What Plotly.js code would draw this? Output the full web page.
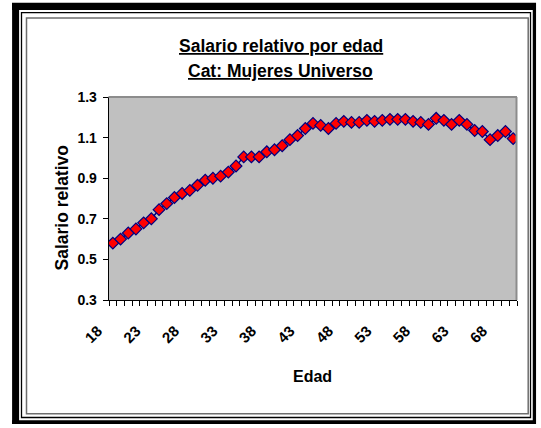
<!DOCTYPE html>
<html>
<head>
<meta charset="utf-8">
<script src="https://cdn.plot.ly/plotly-3.0.1.min.js"></script>
<style>html,body{margin:0;padding:0;background:#fff;}#chart{width:541px;height:428px;}</style>
</head>
<body>
<div id="chart"></div>
<script>
// ---- data ----
const ages = [18,19,20,21,22,23,24,25,26,27,28,29,30,31,32,33,34,35,36,37,38,39,40,41,42,43,44,45,46,47,48,49,50,51,52,53,54,55,56,57,58,59,60,61,62,63,64,65,66,67,68,69,70];
const salarioRelativo = [0.58,0.60,0.63,0.65,0.68,0.70,0.745,0.775,0.805,0.825,0.84,0.865,0.89,0.90,0.91,0.93,0.96,1.005,1.005,1.005,1.03,1.04,1.06,1.09,1.11,1.145,1.17,1.16,1.145,1.17,1.18,1.175,1.175,1.185,1.18,1.185,1.19,1.19,1.19,1.18,1.175,1.165,1.195,1.185,1.165,1.185,1.165,1.135,1.13,1.09,1.11,1.13,1.095];
const xTickVals = [18,23,28,33,38,43,48,53,58,63,68];
const xTickText = ["18","23","28","33","38","43","48","53","58","63","68"];
const yTickVals = [0.3,0.5,0.7,0.9,1.1,1.3];
const titleLine1 = "Salario relativo por edad";
const titleLine2 = "Cat: Mujeres Universo";
const yTitle = "Salario relativo";
const xTitle = "Edad";

// ---- geometry helpers (pixel -> paper) ----
const W = 541, H = 428, ML = 109, MR = 24, MT = 97, MB = 128;
const PW = W - ML - MR, PH = H - MT - MB;
const X = px => (px - ML) / PW;
const Y = py => (H - MB - py) / PH;

const FONT = "Arial, 'Liberation Sans', sans-serif";

function line(x0,y0,x1,y1,color,width){
  return {type:'line', xref:'paper', yref:'paper', x0:X(x0), y0:Y(y0), x1:X(x1), y1:Y(y1), line:{color:color, width:width}};
}
function rect(x0,y0,x1,y1,color,width){
  return {type:'rect', xref:'paper', yref:'paper', x0:X(x0), y0:Y(y0), x1:X(x1), y1:Y(y1), line:{color:color, width:width}, fillcolor:'rgba(0,0,0,0)'};
}

const shapes = [
  line(12,6.4,536,6.4,'#000',7.3),
  line(15.6,3,15.6,424,'#000',7),
  line(534.4,3,534.4,424,'#000',3.3),
  line(12,422.2,536,422.2,'#000',3.7),
  rect(21.5,12.7,530.5,417.5,'#000',1.3),
  rect(26.5,18,528.2,413.8,'#6e6e6e',1.5),
  line(108.5,97,517,97,'#8c8c8c',2),
  line(516.5,97,516.5,300,'#8c8c8c',2)
];

const trace = {
  x: ages, y: salarioRelativo, type:'scatter', mode:'lines+markers',
  line:{color:'#000080', width:1.5},
  marker:{symbol:'diamond', size:9, color:'#ff0000', line:{color:'#000080', width:1.2}},
  hoverinfo:'skip', showlegend:false
};

const layout = {
  width:W, height:H,
  margin:{l:ML, r:MR, t:MT, b:MB, pad:0},
  paper_bgcolor:'#ffffff', plot_bgcolor:'#c0c0c0',
  font:{family:FONT, color:'#000'},
  xaxis:{
    type:'linear', range:[17.5,70.5], autorange:false,
    tickmode:'array', tickvals:xTickVals, ticktext:xTickText,
    ticks:'', tickangle:-45, ticklabelstandoff:15, ticklabelshift:-15,
    tickfont:{family:FONT, size:15, weight:'bold', color:'#000'},
    showgrid:false, zeroline:false, showline:true, linecolor:'#000', linewidth:1.3,
    minor:{tickmode:'linear', tick0:17.5, dtick:1, ticks:'outside', ticklen:5, tickcolor:'#000', tickwidth:1, showgrid:false}
  },
  yaxis:{
    range:[0.3,1.3], autorange:false,
    tickmode:'array', tickvals:yTickVals, tickformat:'.1f',
    ticks:'outside', ticklen:5, tickcolor:'#000', tickwidth:1, ticklabelstandoff:3,
    tickfont:{family:FONT, size:14, weight:'bold', color:'#000'},
    showgrid:false, zeroline:false, showline:true, linecolor:'#000', linewidth:1.3
  },
  shapes:shapes,
  annotations:[
    {text:titleLine1, xref:'paper', yref:'paper', x:X(280.5), y:Y(46), xanchor:'center', yanchor:'middle', showarrow:false,
     font:{family:FONT, size:17.5, weight:'bold', color:'#000', lineposition:'under'}},
    {text:titleLine2, xref:'paper', yref:'paper', x:X(280.5), y:Y(70.5), xanchor:'center', yanchor:'middle', showarrow:false,
     font:{family:FONT, size:17.5, weight:'bold', color:'#000', lineposition:'under'}},
    {text:yTitle, xref:'paper', yref:'paper', x:X(61), y:Y(208.5), xanchor:'center', yanchor:'middle', textangle:-90, showarrow:false,
     font:{family:FONT, size:17.5, weight:'bold', color:'#000'}},
    {text:xTitle, xref:'paper', yref:'paper', x:X(312.5), y:Y(376), xanchor:'center', yanchor:'middle', showarrow:false,
     font:{family:FONT, size:16, weight:'bold', color:'#000'}}
  ]
};

Plotly.newPlot('chart', [trace], layout, {displayModeBar:false, staticPlot:true});
</script>
</body>
</html>
